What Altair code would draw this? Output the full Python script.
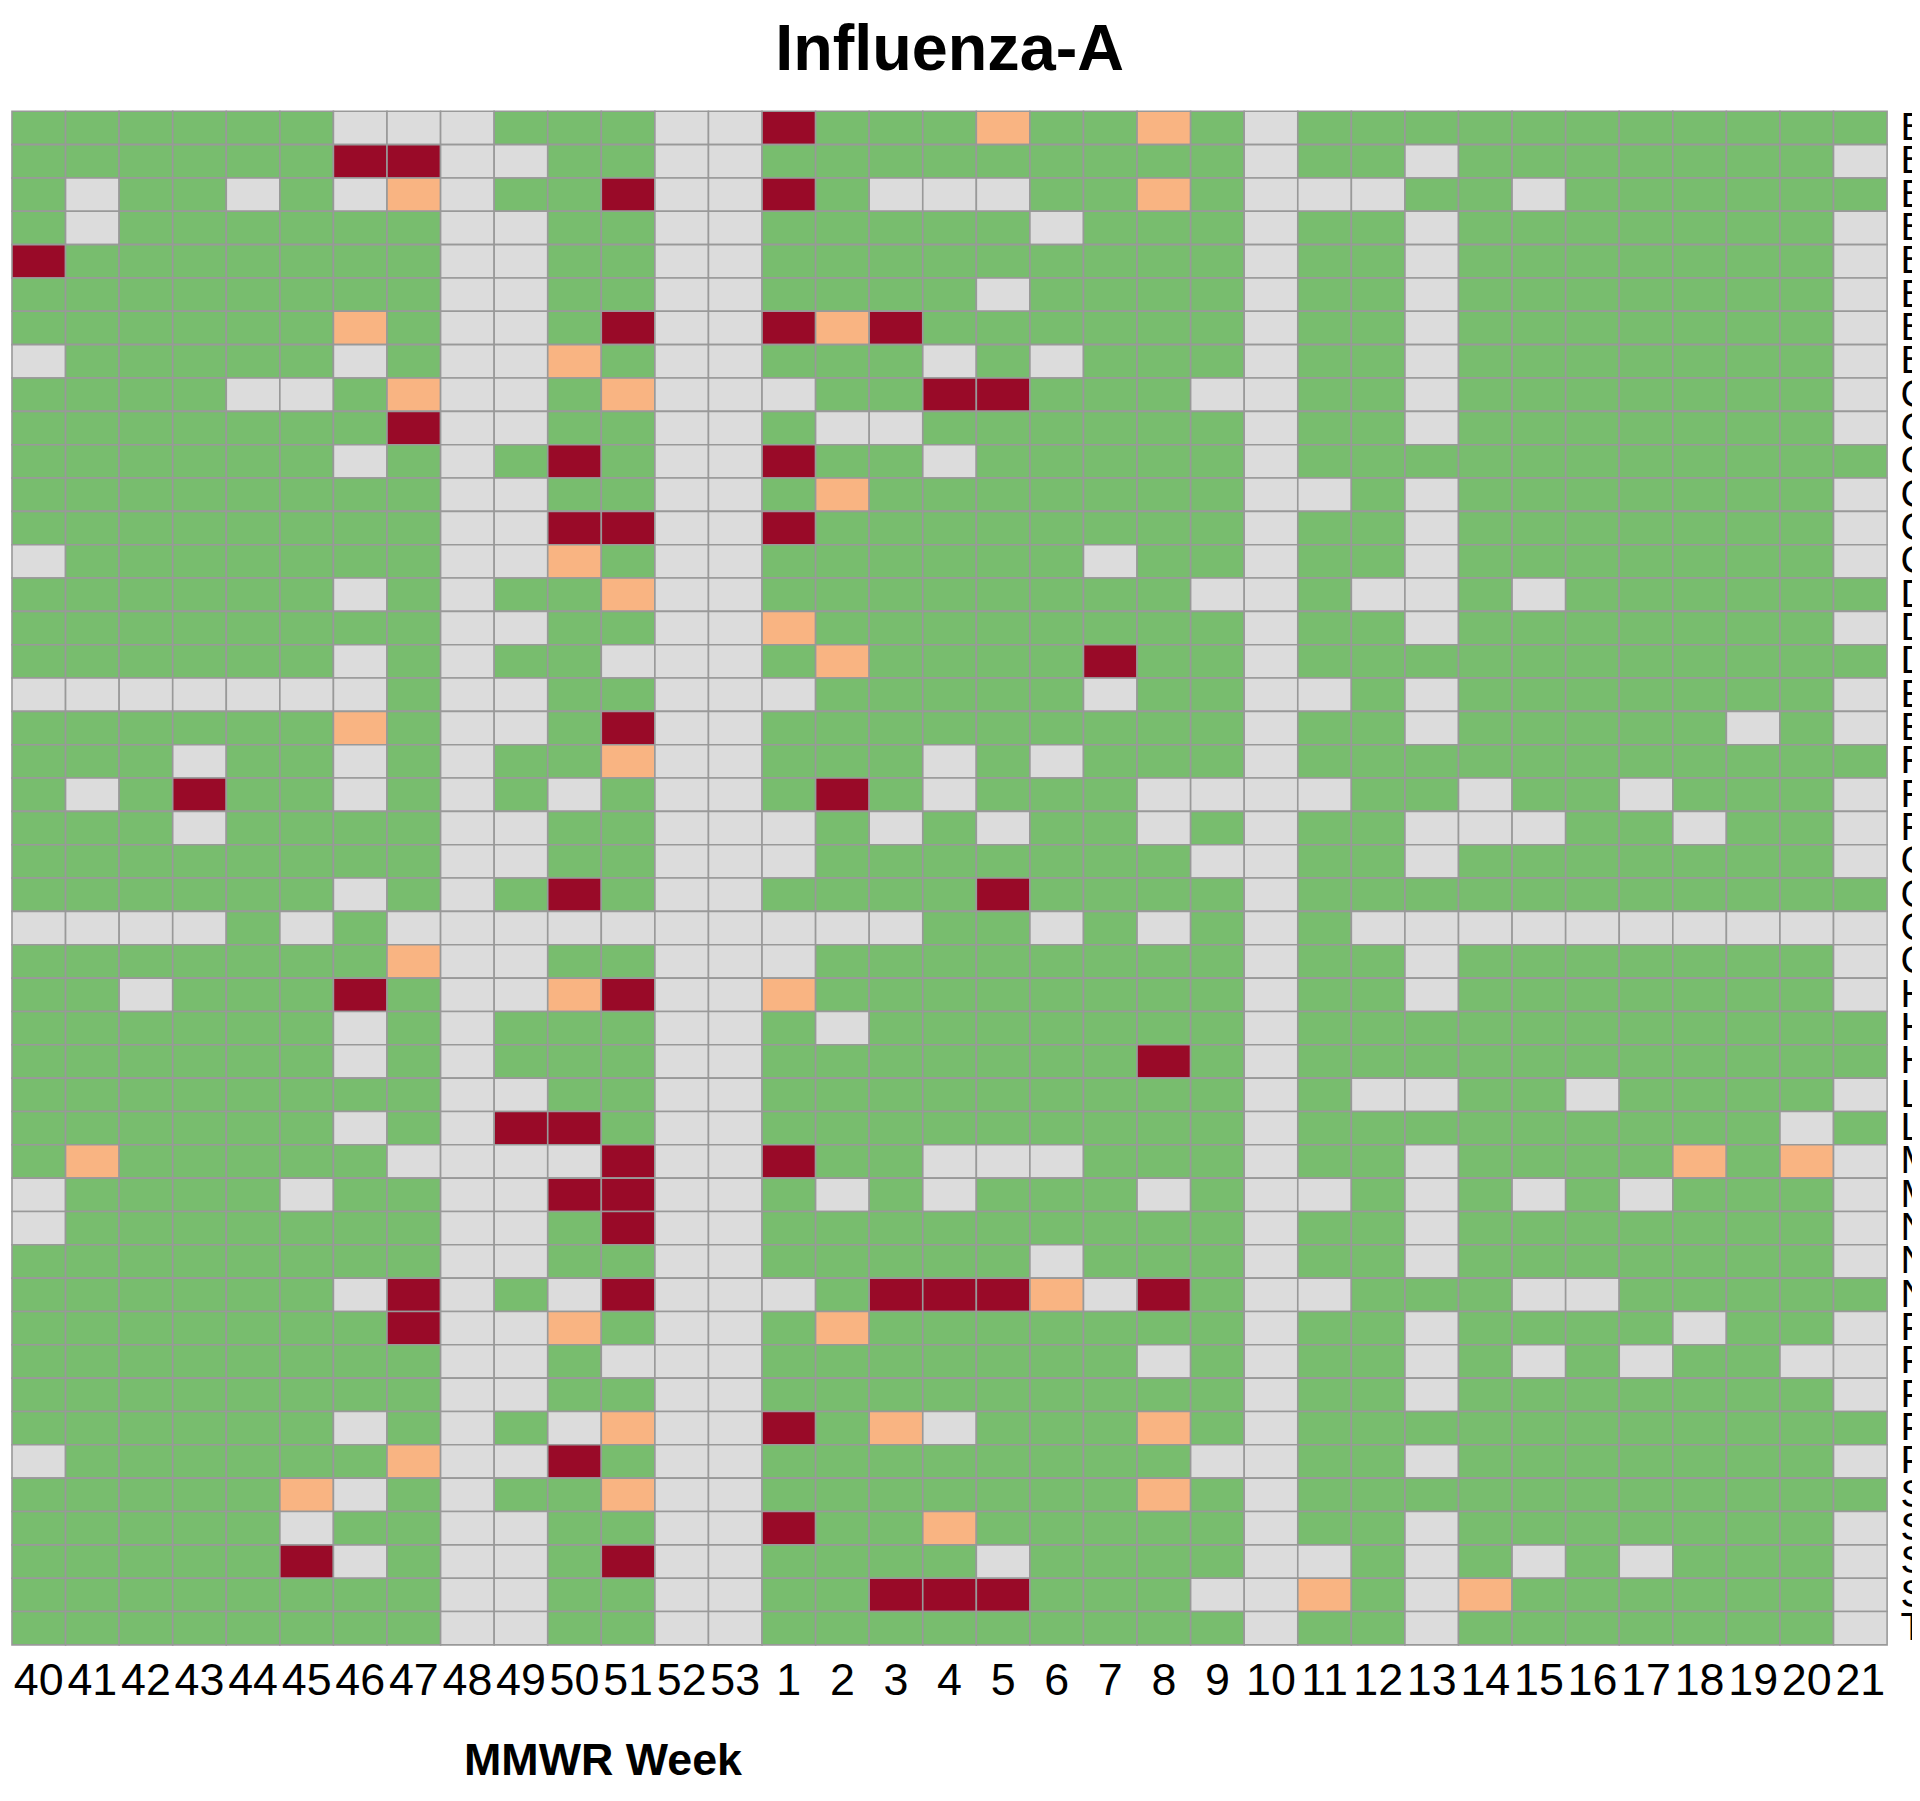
import altair as alt
import pandas as pd

# MMWR weeks (columns, left to right)
weeks = [str(w) for w in range(40, 54)] + [str(w) for w in range(1, 22)]

# Row labels (first letters; names are cut off at the right edge in the reference)
row_letters = (["B"] * 8 + ["C"] * 6 + ["D"] * 3 + ["E"] * 2 + ["F"] * 3 +
               ["G"] * 4 + ["H"] * 3 + ["L"] * 2 + ["M"] * 2 + ["N"] * 3 +
               ["P"] * 5 + ["S"] * 4 + ["T"] * 1)

# Status per cell: G = green, X = grey, O = orange, R = dark red
rows_status = [
    "GGGGGGXXXGGG" + "XXRGGGOGGOGX" + "GGGGGGGGGGG",
    "GGGGGGRRXXGG" + "XXGGGGGGGGGX" + "GGXGGGGGGGX",
    "GXGGXGXOXGGR" + "XXRGXXXGGOGX" + "XXGGXGGGGGG",
    "GXGGGGGGXXGG" + "XXGGGGGXGGGX" + "GGXGGGGGGGX",
    "RGGGGGGGXXGG" + "XXGGGGGGGGGX" + "GGXGGGGGGGX",
    "GGGGGGGGXXGG" + "XXGGGGXGGGGX" + "GGXGGGGGGGX",
    "GGGGGGOGXXGR" + "XXRORGGGGGGX" + "GGXGGGGGGGX",
    "XGGGGGXGXXOG" + "XXGGGXGXGGGX" + "GGXGGGGGGGX",
    "GGGGXXGOXXGO" + "XXXGGRRGGGXX" + "GGXGGGGGGGX",
    "GGGGGGGRXXGG" + "XXGXXGGGGGGX" + "GGXGGGGGGGX",
    "GGGGGGXGXGRG" + "XXRGGXGGGGGX" + "GGGGGGGGGGG",
    "GGGGGGGGXXGG" + "XXGOGGGGGGGX" + "XGXGGGGGGGX",
    "GGGGGGGGXXRR" + "XXRGGGGGGGGX" + "GGXGGGGGGGX",
    "XGGGGGGGXXOG" + "XXGGGGGGXGGX" + "GGXGGGGGGGX",
    "GGGGGGXGXGGO" + "XXGGGGGGGGXX" + "GXXGXGGGGGG",
    "GGGGGGGGXXGG" + "XXOGGGGGGGGX" + "GGXGGGGGGGX",
    "GGGGGGXGXGGX" + "XXGOGGGGRGGX" + "GGGGGGGGGGG",
    "XXXXXXXGXXGG" + "XXXGGGGGXGGX" + "XGXGGGGGGGX",
    "GGGGGGOGXXGR" + "XXGGGGGGGGGX" + "GGXGGGGGXGX",
    "GGGXGGXGXGGO" + "XXGGGXGXGGGX" + "GGGGGGGGGGG",
    "GXGRGGXGXGXG" + "XXGRGXGGGXXX" + "XGGXGGXGGGX",
    "GGGXGGGGXXGG" + "XXXGXGXGGXGX" + "GGXXXGGXGGX",
    "GGGGGGGGXXGG" + "XXXGGGGGGGXX" + "GGXGGGGGGGX",
    "GGGGGGXGXGRG" + "XXGGGGRGGGGX" + "GGGGGGGGGGG",
    "XXXXGXGXXXXX" + "XXXXXGGXGXGX" + "GXXXXXXXXXX",
    "GGGGGGGOXXGG" + "XXXGGGGGGGGX" + "GGXGGGGGGGX",
    "GGXGGGRGXXOR" + "XXOGGGGGGGGX" + "GGXGGGGGGGX",
    "GGGGGGXGXGGG" + "XXGXGGGGGGGX" + "GGGGGGGGGGG",
    "GGGGGGXGXGGG" + "XXGGGGGGGRGX" + "GGGGGGGGGGG",
    "GGGGGGGGXXGG" + "XXGGGGGGGGGX" + "GXXGGXGGGGX",
    "GGGGGGXGXRRG" + "XXGGGGGGGGGX" + "GGGGGGGGGXG",
    "GOGGGGGXXXXR" + "XXRGGXXXGGGX" + "GGXGGGGOGOX",
    "XGGGGXGGXXRR" + "XXGXGXGGGXGX" + "XGXGXGXGGGX",
    "XGGGGGGGXXGR" + "XXGGGGGGGGGX" + "GGXGGGGGGGX",
    "GGGGGGGGXXGG" + "XXGGGGGXGGGX" + "GGXGGGGGGGX",
    "GGGGGGXRXGXR" + "XXXGRRROXRGX" + "XGGGXXGGGGG",
    "GGGGGGGRXXOG" + "XXGOGGGGGGGX" + "GGXGGGGXGGX",
    "GGGGGGGGXXGX" + "XXGGGGGGGXGX" + "GGXGXGXGGXX",
    "GGGGGGGGXXGG" + "XXGGGGGGGGGX" + "GGXGGGGGGGX",
    "GGGGGGXGXGXO" + "XXRGOXGGGOGX" + "GGGGGGGGGGG",
    "XGGGGGGOXXRG" + "XXGGGGGGGGXX" + "GGXGGGGGGGX",
    "GGGGGOXGXGGO" + "XXGGGGGGGOGX" + "GGGGGGGGGGG",
    "GGGGGXGGXXGG" + "XXRGGOGGGGGX" + "GGXGGGGGGGX",
    "GGGGGRXGXXGR" + "XXGGGGXGGGGX" + "XGXGXGXGGGX",
    "GGGGGGGGXXGG" + "XXGGRRRGGGXX" + "OGXOGGGGGGX",
    "GGGGGGGGXXGG" + "XXGGGGGGGGGX" + "GGXGGGGGGGX",
]

status_codes = ["X", "G", "O", "R"]
status_colors = ["#DCDCDC", "#78BD6E", "#F9B482", "#990A28"]

row_ids = [f"{letter}{i:02d}" for i, letter in enumerate(row_letters)]

records = []
for rid, statuses in zip(row_ids, rows_status):
    for wk, s in zip(weeks, statuses):
        records.append({"row": rid, "week": wk, "status": s})
df = pd.DataFrame(records)

FONT = "Liberation Sans"

chart = alt.Chart(df).mark_rect(stroke="#999999", strokeWidth=1.6).encode(
    x=alt.X("week:O", sort=weeks,
            scale=alt.Scale(paddingInner=0, paddingOuter=0),
            axis=alt.Axis(title="MMWR Week", labelAngle=0, labelFontSize=45,
                          labelColor="#000000", labelPadding=14, ticks=False,
                          tickSize=0, domain=False, labelOverlap=False,
                          labelFlush=False,
                          titleFontSize=45, titleFontWeight="bold",
                          titleColor="#000000", titleX=593, titleY=130,
                          titleBaseline="alphabetic", titleAlign="center")),
    y=alt.Y("row:O", sort=row_ids,
            scale=alt.Scale(paddingInner=0, paddingOuter=0),
            axis=alt.Axis(title=None, orient="right", labelFontSize=39,
                          labelColor="#000000", labelPadding=13, ticks=False,
                          tickSize=0, domain=False, labelAlign="left",
                          labelBaseline="middle", labelOffset=0,
                          labelOverlap=False,
                          labelExpr="substring(datum.label, 0, 1)")),
    color=alt.Color("status:N", scale=alt.Scale(domain=status_codes, range=status_colors),
                    legend=None),
).properties(
    width=1883,
    height=1540,
    title=alt.TitleParams("Influenza-A", fontSize=65, fontWeight="bold",
                          color="#000000", anchor="middle", frame="group", offset=25),
    autosize=alt.AutoSizeParams(type="none"),
    padding={"left": 4, "top": 100, "right": 25, "bottom": 135},
).configure(
    font=FONT
).configure_view(
    stroke="transparent"
)

chart.save("out.html", embed_options={"renderer": "svg", "actions": False})
